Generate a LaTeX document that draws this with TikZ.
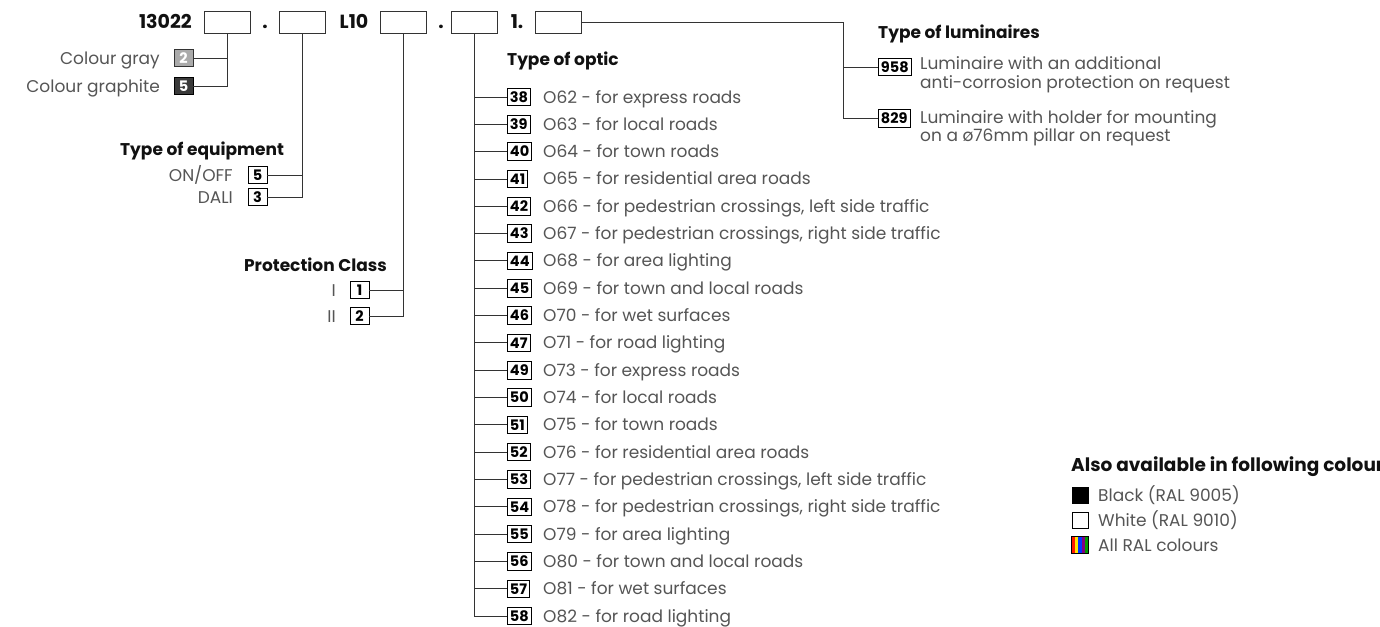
\documentclass[tikz,border=0pt]{standalone}
\usepackage{fontspec}
\setmainfont{Poppins}
\definecolor{txtc}{HTML}{555555}
\definecolor{hdrc}{HTML}{111111}
\definecolor{linec}{HTML}{333333}
\definecolor{grayfill}{HTML}{AAAAAA}
\definecolor{graphfill}{HTML}{3A3A3A}
\begin{document}
\begin{tikzpicture}[x=1pt,y=-1pt,
  codebox/.style={draw=linec, line width=0.9pt, minimum width=46pt, minimum height=22pt, inner sep=0},
  nb/.style={draw=black, line width=0.9pt, inner xsep=2.5pt, inner ysep=3pt, text height=10.5pt, text depth=0pt, minimum height=17.5pt, minimum width=19pt, font=\fontsize{14.5}{14.5}\selectfont\bfseries, text=black},
  lbl/.style={anchor=base west, text=txtc, font=\fontsize{17}{17}\selectfont, inner sep=0},
  lblr/.style={anchor=base east, text=txtc, font=\fontsize{17}{17}\selectfont, inner sep=0},
  hdr/.style={anchor=base west, font=\fontsize{17}{17}\selectfont\bfseries, text=hdrc, inner sep=0},
  hdrr/.style={anchor=base east, font=\fontsize{17}{17}\selectfont\bfseries, text=hdrc, inner sep=0},
  top/.style={anchor=base, font=\fontsize{19}{19}\selectfont\bfseries, text=hdrc, inner sep=0},
  conn/.style={draw=linec, line width=0.9pt},
  sq/.style={draw=black, line width=0.6pt, minimum size=16pt, inner sep=0},
]
\clip (0,0) rectangle (1380,626);
\fill[white] (0,0) rectangle (1380,626);

% top row
\node[top, anchor=base east] (t13022) at (192,29) {13022};
\node[codebox] (b1) at (227,22) {};
\node[top] (d1) at (265,29) {.};
\node[codebox] (b2) at (302,22) {};
\node[top] (tL10) at (354,29) {L10};
\node[codebox] (b3) at (403.5,22) {};
\node[top] (d2) at (441,29) {.};
\node[codebox] (b4) at (474,22) {};
\node[top] (t1) at (517,29) {1.};
\node[codebox] (b5) at (558,22) {};

% colour
\node[nb, fill=grayfill, text=white, draw=linec] (c2) at (183.5,58) {2};
\node[nb, fill=graphfill, text=white, draw=black] (c5) at (183.5,86) {5};
\node[lblr] (lc2) at (160,64) {Colour gray};
\node[lblr] (lc5) at (160,92) {Colour graphite};
\draw[conn] (b1.south) -- (b1.south |- c5.east) -- (c5.east);
\draw[conn] (b1.south |- c2.east) -- (c2.east);

% equipment
\node[hdr] (heq) at (120,155) {Type of equipment};
\node[nb] (e5) at (257.5,175) {5};
\node[nb] (e3) at (257.5,197) {3};
\node[lblr] (le5) at (233,181) {ON/OFF};
\node[lblr] (le3) at (233,203) {DALI};
\draw[conn] (b2.south) -- (b2.south |- e3.east) -- (e3.east);
\draw[conn] (b2.south |- e5.east) -- (e5.east);

% protection class
\node[hdrr] (hpc) at (387,271) {Protection Class};
\node[nb] (p1) at (359.5,290) {1};
\node[nb] (p2) at (359.5,316) {2};
\node[lblr] (lp1) at (336,296) {I};
\node[lblr] (lp2) at (336,322) {II};
\draw[conn] (b3.south) -- (b3.south |- p2.east) -- (p2.east);
\draw[conn] (b3.south |- p1.east) -- (p1.east);

% optic
\node[hdr] (hop) at (507,66) {Type of optic};
\foreach \n/\t [count=\i from 0] in {
 38/{O62 - for express roads},
 39/{O63 - for local roads},
 40/{O64 - for town roads},
 41/{O65 - for residential area roads},
 42/{O66 - for pedestrian crossings, left side traffic},
 43/{O67 - for pedestrian crossings, right side traffic},
 44/{O68 - for area lighting},
 45/{O69 - for town and local roads},
 46/{O70 - for wet surfaces},
 47/{O71 - for road lighting},
 49/{O73 - for express roads},
 50/{O74 - for local roads},
 51/{O75 - for town roads},
 52/{O76 - for residential area roads},
 53/{O77 - for pedestrian crossings, left side traffic},
 54/{O78 - for pedestrian crossings, right side traffic},
 55/{O79 - for area lighting},
 56/{O80 - for town and local roads},
 57/{O81 - for wet surfaces},
 58/{O82 - for road lighting}}{
  \pgfmathsetmacro{\yy}{97+27.32*\i}
  \node[nb, anchor=west] (o\n) at (507,\yy) {\n};
  \node[lbl] (lo\n) at (543,\yy+6) {\t};
  \draw[conn] (b4.south |- o\n.west) -- (o\n.west);
}
\draw[conn] (b4.south) -- (b4.south |- o58.west);

% luminaires
\node[hdr] (hlu) at (878,39) {Type of luminaires};
\node[nb, anchor=west] (l958) at (878,67) {958};
\node[nb, anchor=west] (l829) at (878,118.5) {829};
\node[lbl] (ll958a) at (920,70) {Luminaire with an additional};
\node[lbl] (ll958b) at (920,88) {anti-corrosion protection on request};
\node[lbl] (ll829a) at (920,123) {Luminaire with holder for mounting};
\node[lbl] (ll829b) at (920,141) {on a ø76mm pillar on request};
\coordinate (lt) at (843,22);
\draw[conn] (b5.east) -- (lt) -- (lt |- l829.west) -- (l829.west);
\draw[conn] (lt |- l958.west) -- (l958.west);

% colours legend
\node[hdr, font=\fontsize{18.5}{18.5}\selectfont\bfseries] (hcol) at (1071,471) {Also available in following colours};
\node[sq, fill=black] (sblack) at (1080,495) {};
\node[sq, fill=white] (swhite) at (1080,520) {};
\node[sq] (sral) at (1080,545) {};
\begin{scope}
\clip (sral.south west) rectangle (sral.north east);
\fill[red!80!orange] (1072,537) rectangle (1075.2,553);
\fill[yellow!90!orange] (1075.2,537) rectangle (1078.4,553);
\fill[blue!80!cyan] (1078.4,537) rectangle (1081.6,553);
\fill[violet] (1081.6,537) rectangle (1084.8,553);
\fill[green!60!black] (1084.8,537) rectangle (1088,553);
\end{scope}
\draw[black, line width=0.6pt] (sral.south west) rectangle (sral.north east);
\node[lbl] (tblack) at (1098,501) {Black (RAL 9005)};
\node[lbl] (twhite) at (1098,526) {White (RAL 9010)};
\node[lbl] (tral) at (1098,551) {All RAL colours};
\end{tikzpicture}
\end{document}
